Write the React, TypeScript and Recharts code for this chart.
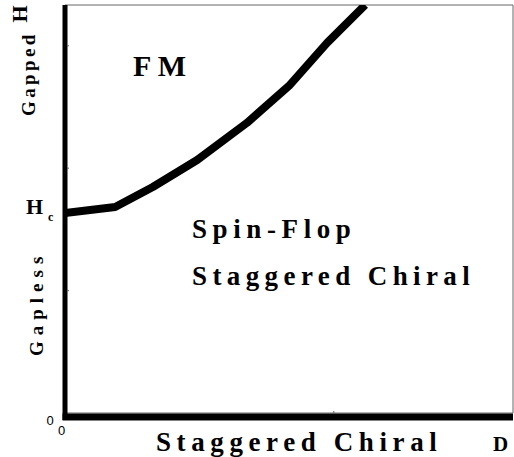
import React from 'react';
import { LineChart, Line, XAxis, YAxis, ReferenceLine, ReferenceArea } from 'recharts';

// Phase boundary (D, H), in axis units (0..10)
const boundaryD = [0, 1.12, 1.96, 2.95, 4.06, 5.02, 5.85, 6.7];
const boundaryH = [4.9, 5.05, 5.54, 6.2, 7.11, 8.04, 9.07, 10.0];
const xTicks = [0, 6];
const yTicks = [0, 3, 6, 9];
const tickLabels: Record<number, string> = { 0: '0' };

const data = boundaryD.map((d, i) => ({ d, h: boundaryH[i] }));

const SERIF = '"Liberation Serif", "Times New Roman", serif';
const SANS = '"Liberation Sans", Arial, sans-serif';

const YTick = (props: any) => {
  const { y, payload } = props;
  const v = payload.value;
  if (v === 0) {
    return (
      <text x={50} y={y + 12} textAnchor="middle" fontFamily={SANS} fontSize={13} fill="#000">
        {tickLabels[0]}
      </text>
    );
  }
  return <line x1={67} x2={69} y1={y} y2={y} stroke="#666" strokeWidth={1} />;
};

const XTick = (props: any) => {
  const { x, payload } = props;
  const v = payload.value;
  if (v === 0) {
    return (
      <text x={x - 3.5} y={435} textAnchor="middle" fontFamily={SANS} fontSize={13} fill="#000">
        {tickLabels[0]}
      </text>
    );
  }
  return <line x1={x} x2={x} y1={411} y2={413} stroke="#666" strokeWidth={1} />;
};

const bold = { fontFamily: SERIF, fontWeight: 700 as const, fill: '#000' };

export default function App() {
  return (
    <div style={{ position: 'absolute', left: 0, top: 0, width: 514, height: 457, background: '#fff' }}>
      <LineChart
        width={514}
        height={457}
        data={data}
        margin={{ top: 5, right: 1, left: 5, bottom: 4 }}
      >
        <XAxis
          dataKey="d"
          type="number"
          domain={[0, 10]}
          ticks={xTicks}
          axisLine={false}
          tickLine={false}
          tick={<XTick />}
          height={40}
          allowDataOverflow
        />
        <YAxis
          type="number"
          domain={[0, 10]}
          ticks={yTicks}
          axisLine={false}
          tickLine={false}
          tick={<YTick />}
          width={60}
          allowDataOverflow
        />
        <ReferenceArea x1={0} x2={10} y1={0} y2={10} fill="none" stroke="#666" strokeWidth={1} ifOverflow="visible" />
        <Line
          dataKey="h"
          type="linear"
          stroke="#000"
          strokeWidth={8}
          strokeLinejoin="round"
          dot={false}
          activeDot={false}
          isAnimationActive={false}
        />
        <ReferenceLine
          segment={[{ x: 0, y: -0.17 }, { x: 0, y: 10 }]}
          stroke="#000"
          strokeWidth={5}
          ifOverflow="visible"
        />
        <ReferenceLine
          segment={[{ x: -0.056, y: -0.095 }, { x: 10, y: -0.095 }]}
          stroke="#000"
          strokeWidth={7}
          ifOverflow="visible"
        />
      </LineChart>
      <svg
        width={514}
        height={457}
        style={{ position: 'absolute', left: 0, top: 0, pointerEvents: 'none' }}
      >
        <text transform="translate(27,14) rotate(-90)" textAnchor="middle" fontSize={22} {...bold}>H</text>
        <text transform="translate(35,116) rotate(-90)" textAnchor="start" fontSize={19} letterSpacing={3.4} {...bold}>Gapped</text>
        <text x={26} y={214} fontSize={22} {...bold}>H</text>
        <text x={48} y={221} fontSize={12} {...bold}>c</text>
        <text transform="translate(43,356) rotate(-90)" textAnchor="start" fontSize={19} letterSpacing={6} {...bold}>Gapless</text>
        <text x={133} y={76} fontSize={30} {...bold}>F M</text>
        <text x={192} y={238} fontSize={27} letterSpacing={5.6} {...bold}>Spin-Flop</text>
        <text x={192} y={285} fontSize={27} letterSpacing={5.4} {...bold}>Staggered Chiral</text>
        <text x={156} y={451} fontSize={27} letterSpacing={5.6} {...bold}>Staggered Chiral</text>
        <text x={493} y={451} fontSize={21} {...bold}>D</text>
      </svg>
    </div>
  );
}
